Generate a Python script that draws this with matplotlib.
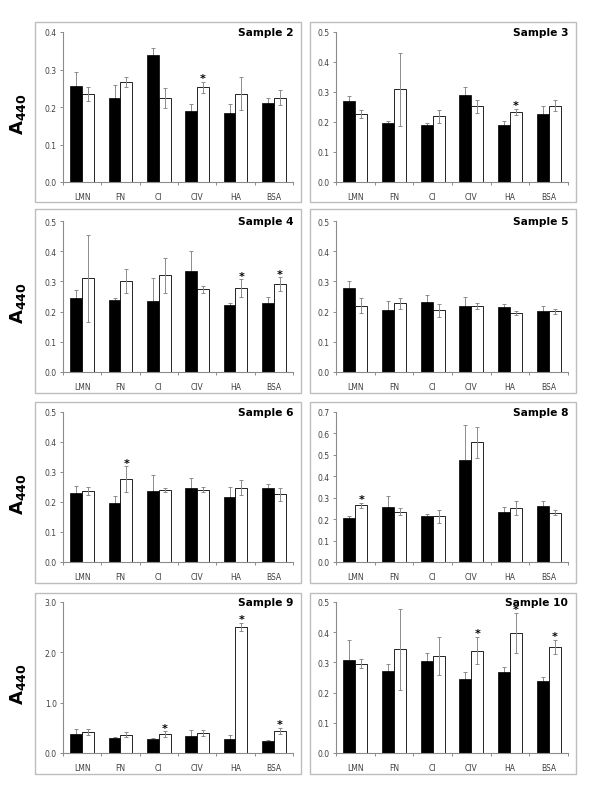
import matplotlib
matplotlib.use("Agg")
import matplotlib.pyplot as plt
from matplotlib.patches import Rectangle
import numpy as np

categories = ["LMN", "FN", "CI", "CIV", "HA", "BSA"]

# values: black bars (filled) and white bars (open)
s2_black = [0.256, 0.224, 0.340, 0.190, 0.184, 0.212]
s2_black_err = [0.037, 0.035, 0.018, 0.018, 0.025, 0.012]
s2_white = [0.235, 0.267, 0.225, 0.253, 0.236, 0.225]
s2_white_err = [0.018, 0.013, 0.027, 0.015, 0.043, 0.020]
s2_star = [False, False, False, True, False, False]

s3_black = [0.270, 0.198, 0.190, 0.289, 0.190, 0.227]
s3_black_err = [0.017, 0.004, 0.008, 0.029, 0.014, 0.027]
s3_white = [0.228, 0.309, 0.219, 0.252, 0.234, 0.255]
s3_white_err = [0.013, 0.122, 0.021, 0.022, 0.010, 0.019]
s3_star = [False, False, False, False, True, False]

s4_black = [0.245, 0.240, 0.234, 0.333, 0.221, 0.227]
s4_black_err = [0.028, 0.006, 0.076, 0.068, 0.006, 0.023]
s4_white = [0.310, 0.300, 0.321, 0.274, 0.277, 0.291]
s4_white_err = [0.144, 0.040, 0.058, 0.012, 0.030, 0.022]
s4_star = [False, False, False, False, True, True]

s5_black = [0.277, 0.204, 0.231, 0.220, 0.214, 0.203]
s5_black_err = [0.025, 0.030, 0.024, 0.027, 0.010, 0.016]
s5_white = [0.220, 0.227, 0.204, 0.218, 0.195, 0.201]
s5_white_err = [0.024, 0.017, 0.021, 0.011, 0.007, 0.008]
s5_star = [False] * 6

s6_black = [0.229, 0.197, 0.237, 0.248, 0.216, 0.246]
s6_black_err = [0.023, 0.022, 0.053, 0.031, 0.033, 0.015]
s6_white = [0.236, 0.277, 0.240, 0.241, 0.248, 0.226]
s6_white_err = [0.013, 0.042, 0.007, 0.008, 0.024, 0.021]
s6_star = [False, True, False, False, False, False]

s8_black = [0.205, 0.259, 0.217, 0.476, 0.234, 0.260]
s8_black_err = [0.012, 0.048, 0.005, 0.164, 0.025, 0.025]
s8_white = [0.264, 0.234, 0.213, 0.558, 0.253, 0.231]
s8_white_err = [0.012, 0.016, 0.032, 0.074, 0.034, 0.011]
s8_star = [True, False, False, False, False, False]

s9_black = [0.370, 0.305, 0.278, 0.344, 0.285, 0.245]
s9_black_err = [0.100, 0.013, 0.020, 0.120, 0.066, 0.020]
s9_white = [0.417, 0.364, 0.370, 0.397, 2.503, 0.444]
s9_white_err = [0.060, 0.053, 0.060, 0.067, 0.080, 0.060]
s9_star = [False, False, True, False, True, True]

s10_black = [0.307, 0.273, 0.305, 0.246, 0.268, 0.238]
s10_black_err = [0.066, 0.022, 0.026, 0.022, 0.017, 0.014]
s10_white = [0.296, 0.344, 0.321, 0.339, 0.398, 0.351]
s10_white_err = [0.014, 0.134, 0.063, 0.045, 0.066, 0.024]
s10_star = [False, False, False, True, True, True]

panels = [
    ("Sample 2", s2_black, s2_black_err, s2_white, s2_white_err, s2_star, 0.4, 0.1),
    ("Sample 3", s3_black, s3_black_err, s3_white, s3_white_err, s3_star, 0.5, 0.1),
    ("Sample 4", s4_black, s4_black_err, s4_white, s4_white_err, s4_star, 0.5, 0.1),
    ("Sample 5", s5_black, s5_black_err, s5_white, s5_white_err, s5_star, 0.5, 0.1),
    ("Sample 6", s6_black, s6_black_err, s6_white, s6_white_err, s6_star, 0.5, 0.1),
    ("Sample 8", s8_black, s8_black_err, s8_white, s8_white_err, s8_star, 0.7, 0.1),
    ("Sample 9", s9_black, s9_black_err, s9_white, s9_white_err, s9_star, 3.0, 1.0),
    ("Sample 10", s10_black, s10_black_err, s10_white, s10_white_err, s10_star, 0.5, 0.1),
]

W, H = 600, 803
fig = plt.figure(figsize=(W / 100, H / 100), dpi=100)

# pixel geometry of panel frames and axes (top, bottom)
rows_px = [(33, 183), (222, 373), (413, 563), (603, 754)]
frames_px = [(23, 203), (210, 394), (403, 584), (594, 775)]
cols_px = [(63, 293), (336, 568)]
frame_cols_px = [(35, 301), (310, 576)]

GRAY = "#8c8c8c"
TXT = "#404040"
bw = 0.31

for k, (title, blk, blk_e, wht, wht_e, star, ymax, step) in enumerate(panels):
    r, c = divmod(k, 2)
    x0, x1 = cols_px[c]
    t, b = rows_px[r]
    ax = fig.add_axes([x0 / W, 1 - b / H, (x1 - x0) / W, (b - t) / H])

    # frame around each panel
    fx0, fx1 = frame_cols_px[c]
    ft, fb = frames_px[r]
    fig.patches.append(Rectangle((fx0 / W, 1 - fb / H), (fx1 - fx0) / W, (fb - ft) / H,
                                 transform=fig.transFigure, fill=False,
                                 edgecolor="#bdbdbd", linewidth=1.0, zorder=0))

    x = np.arange(len(categories))
    ax.errorbar(x - bw / 2, blk, yerr=blk_e, fmt="none", ecolor=GRAY,
                elinewidth=0.7, capsize=1.3, capthick=0.7, zorder=1)
    ax.bar(x - bw / 2, blk, width=bw, color="black", edgecolor="black",
           linewidth=0.5, zorder=2)
    ax.bar(x + bw / 2, wht, width=bw, color="white", edgecolor="black",
           linewidth=0.6, zorder=2)
    ax.errorbar(x + bw / 2, wht, yerr=wht_e, fmt="none", ecolor=GRAY,
                elinewidth=0.7, capsize=1.3, capthick=0.7, zorder=3)

    for i, s in enumerate(star):
        if s:
            ax.annotate("*", xy=(i + bw / 2, wht[i] + wht_e[i]), xytext=(0, -1),
                        textcoords="offset points", ha="center", va="bottom",
                        fontsize=8, fontweight="bold", color="black")

    ax.set_xlim(-0.5, len(categories) - 0.5)
    ax.set_ylim(0, ymax)
    ax.set_yticks(np.arange(0, ymax + step / 2, step))
    ax.yaxis.set_major_formatter(plt.FormatStrFormatter("%.1f"))
    ax.set_xticks(x)
    ax.set_xticklabels(categories)
    ax.set_xticks(np.arange(-0.5, len(categories)), minor=True)
    ax.tick_params(axis="x", which="major", length=0, pad=7, labelsize=5.5, labelcolor=TXT)
    ax.tick_params(axis="x", which="minor", length=2.5, width=0.7, color=GRAY, direction="out")
    ax.tick_params(axis="y", length=2.5, width=0.7, color=GRAY, pad=2, labelsize=5.5,
                   labelcolor=TXT, direction="out")
    for side in ("top", "right"):
        ax.spines[side].set_visible(False)
    for side in ("left", "bottom"):
        ax.spines[side].set_color(GRAY)
        ax.spines[side].set_linewidth(0.8)

    ax.text(1.0, 1.03, title, transform=ax.transAxes, ha="right", va="top",
            fontsize=7.7, fontweight="bold", color="black")

    if c == 0:
        fig.text(18 / W, 1 - ((t + b) / 2 + 6) / H, r"$\mathbf{A}_{\mathbf{440}}$",
                 rotation=90, ha="center", va="center", fontsize=13)

fig.savefig("out.png", dpi=100)
